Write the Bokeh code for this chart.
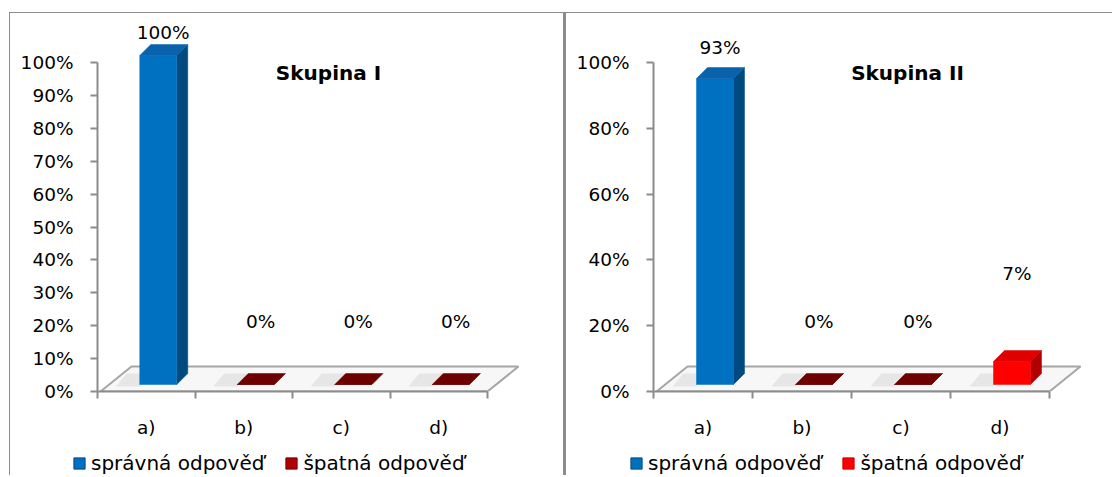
from bokeh.plotting import figure
from bokeh.models import (Range1d, FixedTicker, PrintfTickFormatter, Legend,
                          LegendItem, Label, ColumnDataSource, Spacer)
from bokeh.layouts import row, column
from bokeh.embed import file_html
from bokeh.resources import INLINE
from bokeh.core.properties import value

# ---------------- data ----------------
categories = ["a)", "b)", "c)", "d)"]
series_names = ["správná odpověď", "špatná odpověď"]
titles = ["Skupina I", "Skupina II"]
group1_values = [100, 0, 0, 0]          # percent of answers, Skupina I
group2_values = [93, 0, 0, 7]           # percent of answers, Skupina II
series_of_category = [0, 1, 1, 1]       # 0 = správná, 1 = špatná
y_ticks_1 = [0, 10, 20, 30, 40, 50, 60, 70, 80, 90, 100]
y_ticks_2 = [0, 20, 40, 60, 80, 100]

# ---------------- style ----------------
FONT = "DejaVu Sans"
FS = "18.5px"
AX = "#8c8c8c"
PX_PER_PCT = 3.29
BLUE = ("#0070c0", "#0a62ad", "#004a80")      # front, top, side
RED = ("#ff0000", "#e00000", "#b00000")
DARK = "#6e0000"
LEGEND_WRONG = [("#b00000", "#700000"), ("#ff0000", "#c00000")]
label_lift = [[30, 70, 70, 70], [38, 70, 70, 95]]   # px above the bar value
HC, HL = 432, 31
TOP, BOTTOM = 7, 54


def make_panel(values, title, yticks, width, left, right, px_cat, wrong_col,
               lifts, legend_left, title_px, borders):
    frame_w = width - left - right
    frame_h = HC - TOP - BOTTOM
    p = figure(width=width, height=HC, output_backend="svg", toolbar_location=None,
               x_range=Range1d(0, frame_w / px_cat),
               y_range=Range1d(0, frame_h / PX_PER_PCT),
               min_border_left=left, min_border_right=right,
               min_border_top=TOP, min_border_bottom=BOTTOM,
               outline_line_color=None, background_fill_color="white",
               border_fill_color="white", frame_align=False)
    p.grid.visible = False

    cx = lambda px: px / px_cat
    cy = lambda px: px / PX_PER_PCT

    # floor
    fdx, fdy = cx(31), cy(25)
    p.patch([cx(3), 4, 4 + fdx, cx(3) + fdx], [0, 0, fdy, fdy],
            fill_color="#f7f7f7", line_color="#a6a6a6", line_width=2)

    # bars (3D columns)
    off_x, off_y = cx(12), cy(7)
    dx, dy = cx(11), cy(11)
    hw = cx(18.5)
    sh_x, sh_y = [], []
    fr_x, fr_y, fr_c = [], [], []
    sd_x, sd_y, sd_c = [], [], []
    tp_x, tp_y, tp_c = [], [], []
    for i, v in enumerate(values):
        c = i + 0.5
        xl, xr = c - hw + off_x, c + hw + off_x
        yb, yt = off_y, v + off_y
        cols = BLUE if series_of_category[i] == 0 else RED
        if v == 0:
            cols = (DARK, DARK, DARK)
        sh_x.append([xl - cx(24), xl, xl + dx, xl + dx - cx(24)])
        sh_y.append([yb - cy(2), yb - cy(2), yb + dy, yb + dy])
        fr_x.append([xl, xr, xr, xl]); fr_y.append([yb, yb, yt, yt]); fr_c.append(cols[0])
        sd_x.append([xr, xr + dx, xr + dx, xr]); sd_y.append([yb, yb + dy, yt + dy, yt]); sd_c.append(cols[2])
        tp_x.append([xl, xr, xr + dx, xl + dx]); tp_y.append([yt, yt, yt + dy, yt + dy]); tp_c.append(cols[1])
    p.patches(sh_x, sh_y, fill_color="#d8d8d8", fill_alpha=0.55, line_color=None)
    p.patches(sd_x, sd_y, fill_color=sd_c, line_color=sd_c, line_width=0.5)
    p.patches(fr_x, fr_y, fill_color=fr_c, line_color=fr_c, line_width=0.5)
    p.patches(tp_x, tp_y, fill_color=tp_c, line_color=tp_c, line_width=0.5)

    # value labels
    src = ColumnDataSource(dict(
        x=[i + 0.5 + cx(17) for i in range(len(values))],
        y=values,
        t=[f"{v}%" for v in values],
        dy=[-l for l in lifts]))
    p.text(x="x", y="y", text="t", y_offset="dy", source=src,
           text_align="center", text_baseline="middle",
           text_font=value(FONT), text_font_size=FS, text_color="black")

    # title
    p.add_layout(Label(x=cx(title_px[0]), y=cy(title_px[1]), text=title,
                       text_align="center", text_baseline="middle",
                       text_font=FONT, text_font_size="20px",
                       text_font_style="bold", text_color="black"))

    # axes
    ya = p.yaxis[0]
    ya.ticker = FixedTicker(ticks=yticks, minor_ticks=[])
    ya.formatter = PrintfTickFormatter(format="%d%%")
    ya.bounds = (0, 100)
    ya.axis_line_color = AX
    ya.axis_line_width = 2
    ya.major_tick_line_color = AX
    ya.major_tick_line_width = 2
    ya.major_tick_out = 7
    ya.major_tick_in = 0
    ya.major_label_standoff = 17
    ya.major_label_text_font = FONT
    ya.major_label_text_font_size = FS
    ya.major_label_text_color = "black"

    xa = p.xaxis[0]
    xa.ticker = FixedTicker(ticks=[i + 0.5 for i in range(len(categories))],
                            minor_ticks=list(range(len(categories) + 1)))
    xa.major_label_overrides = {i + 0.5: c for i, c in enumerate(categories)}
    xa.bounds = (0, len(categories))
    xa.axis_line_color = AX
    xa.axis_line_width = 2
    xa.major_tick_out = 0
    xa.major_tick_in = 0
    xa.minor_tick_out = 7
    xa.minor_tick_in = 0
    xa.minor_tick_line_color = AX
    xa.minor_tick_line_width = 2
    xa.major_label_standoff = 18
    xa.major_label_text_font = FONT
    xa.major_label_text_font_size = FS
    xa.major_label_text_color = "black"

    # legend strip (own small figure; legend sits at its frame's bottom-left)
    lf = figure(width=width, height=HL, output_backend="svg", toolbar_location=None,
                x_range=Range1d(0, 1), y_range=Range1d(0, 1),
                x_axis_type=None, y_axis_type=None,
                min_border_left=legend_left, min_border_right=0,
                min_border_top=0, min_border_bottom=0, outline_line_color=None,
                background_fill_color="white", border_fill_color="white",
                frame_align=False)
    lf.grid.visible = False
    # legend proxies kept outside the visible range
    r1 = lf.quad(left=[5], right=[6], top=[6], bottom=[5],
                 fill_color=BLUE[0], line_color=BLUE[2])
    r2 = lf.quad(left=[5], right=[6], top=[6], bottom=[5],
                 fill_color=wrong_col[0], line_color=wrong_col[1])
    leg = Legend(items=[LegendItem(label=series_names[0], renderers=[r1]),
                        LegendItem(label=series_names[1], renderers=[r2])],
                 orientation="horizontal", location="bottom_left",
                 glyph_width=14, glyph_height=14, label_standoff=5, spacing=20,
                 padding=0, margin=0, border_line_color=None,
                 background_fill_alpha=0, label_text_font=FONT,
                 label_text_font_size="20px", label_text_color="black")
    lf.add_layout(leg)

    p.styles = dict(borders, **{"border-top": f"1px solid {AX}"})
    lf.styles = dict(borders)
    return column(p, lf)


b1 = {"border-left": f"1px solid {AX}", "border-right": f"3px solid {AX}"}
b2 = {}
c1 = make_panel(group1_values, titles[0], y_ticks_1, 557, 87, 12, 97.5,
                LEGEND_WRONG[0], label_lift[0], 62, (231, 319), b1)
c2 = make_panel(group2_values, titles[1], y_ticks_2, 546, 87, 0, 99.0,
                LEGEND_WRONG[1], label_lift[1], 63, (254, 319), b2)

layout = column(Spacer(height=12), row(Spacer(width=9), c1, c2))
open("out.html", "w").write(file_html(layout, INLINE))
